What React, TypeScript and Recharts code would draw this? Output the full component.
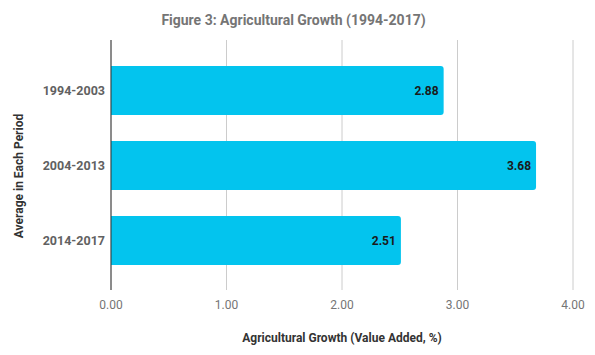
import React from 'react';
import { BarChart, Bar, XAxis, YAxis, CartesianGrid, LabelList } from 'recharts';

// Average agricultural growth for each period
const periods = ['1994-2003', '2004-2013', '2014-2017'];
const growth = [2.88, 3.68, 2.51];
const xTicks = [0, 1, 2, 3, 4];

const data = periods.map((period, i) => ({ period, growth: growth[i] }));

const FONT = 'Roboto, "Noto Sans", sans-serif';

const App: React.FC = () => {
  return (
    <div style={{ position: 'absolute', left: 0, top: 0, width: 595, height: 355, background: '#fff', fontFamily: FONT }}>
      <div
        style={{
          position: 'absolute',
          left: 0,
          top: 10,
          width: 587,
          textAlign: 'center',
          fontSize: 14,
          fontWeight: 700,
          color: '#757575',
          lineHeight: '20px',
        }}
      >
        Figure 3: Agricultural Growth (1994-2017)
      </div>
      <BarChart
        width={595}
        height={355}
        data={data}
        layout="vertical"
        margin={{ top: 40, right: 22, bottom: 0, left: 0 }}
        style={{ fontFamily: FONT }}
      >
        <CartesianGrid horizontal={false} stroke="#cccccc" />
        <XAxis
          type="number"
          domain={[0, 4]}
          ticks={xTicks}
          tickFormatter={(v: number) => v.toFixed(2)}
          axisLine={false}
          tickLine={false}
          tickSize={0}
          tickMargin={10}
          height={65}
          tick={{ fill: '#757575', fontSize: 12 }}
          label={{
            content: () => (
              <text x={342} y={342} textAnchor="middle" fill="#333333" fontSize={12} fontWeight={700} fontFamily={FONT}>
                Agricultural Growth (Value Added, %)
              </text>
            ),
          }}
        />
        <YAxis
          type="category"
          dataKey="period"
          width={111}
          axisLine={{ stroke: '#333333' }}
          tickLine={false}
          tickSize={0}
          tickMargin={6}
          padding={{ top: 13, bottom: 12 }}
          tick={{ fill: '#616161', fontSize: 12.5, fontWeight: 700 }}
          label={{
            content: () => (
              <text
                x={23}
                y={176}
                textAnchor="middle"
                transform="rotate(-90 23 176)"
                fill="#333333"
                fontSize={12}
                fontWeight={700}
                fontFamily={FONT}
              >
                Average in Each Period
              </text>
            ),
          }}
        />
        <Bar dataKey="growth" fill="#03C4EE" barSize={49} radius={[0, 3, 3, 0]} isAnimationActive={false}>
          <LabelList
            dataKey="growth"
            position="insideRight"
            offset={5}
            formatter={(v: number) => v.toFixed(2)}
            fill="#1a1a1a"
            fontSize={12}
            fontWeight={700}
          />
        </Bar>
      </BarChart>
    </div>
  );
};

export default App;
